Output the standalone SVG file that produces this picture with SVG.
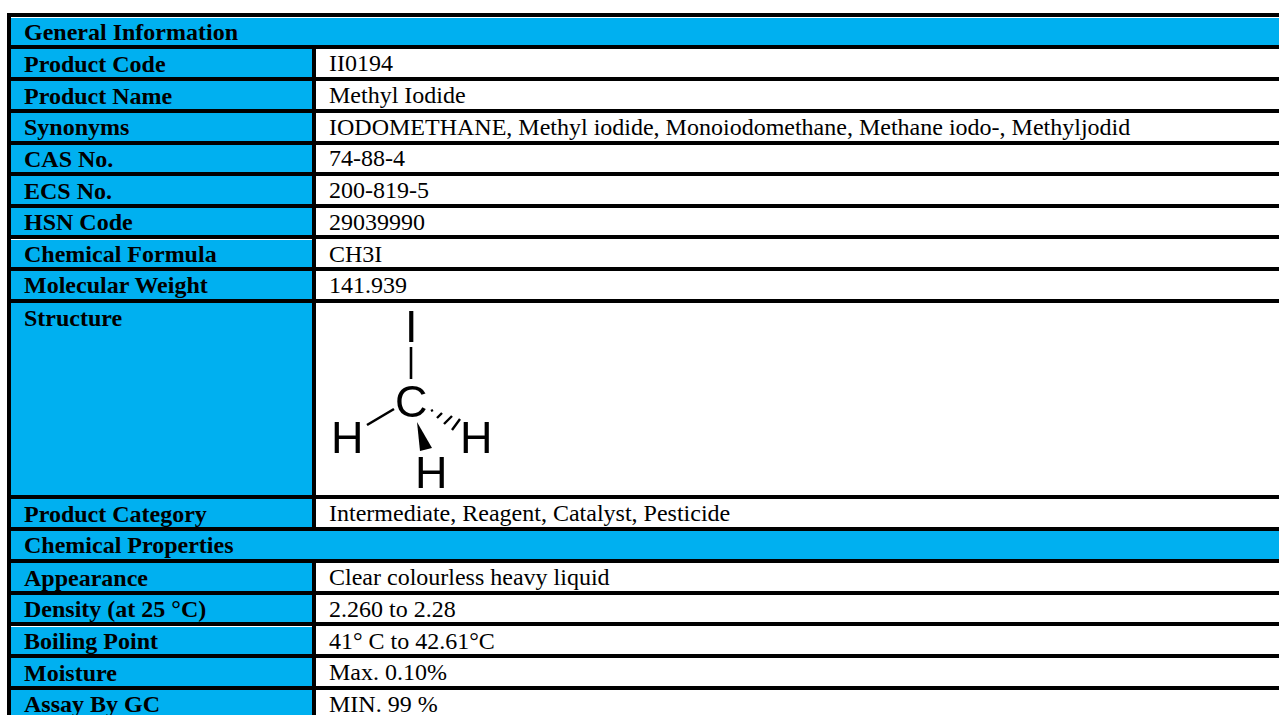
<svg xmlns="http://www.w3.org/2000/svg" width="1279" height="715" viewBox="0 0 1279 715">
<style>
.b{fill:#00b0f0}
.w{fill:#fff}
text{font-family:"Liberation Serif","Times New Roman",serif;fill:#000;font-size:24px}
.l{font-weight:700}
.a{font-family:"Liberation Sans",Arial,sans-serif;font-size:45px}
</style>
<defs><filter id="s" x="-5%" y="-5%" width="110%" height="110%"><feGaussianBlur stdDeviation="0.5"/></filter></defs>
<rect width="1279" height="715" fill="#fff"/>
<rect x="7" y="13" width="1272" height="702" fill="#000"/>
<rect x="11" y="17" width="1268" height="1" fill="#fff"/>
<g id="general-information"><rect class="b" x="11" y="18" width="1268" height="27"/><text class="l" x="24" y="40">General Information</text></g>
<g id="product-code"><rect class="b" x="11" y="49" width="301" height="28"/><rect class="w" x="316" y="49" width="963" height="28"/><text class="l" x="24" y="72">Product Code</text><text x="329" y="71">II0194</text></g>
<g id="product-name"><rect class="b" x="11" y="81" width="301" height="28"/><rect class="w" x="316" y="81" width="963" height="28"/><text class="l" x="24" y="104">Product Name</text><text x="329" y="103">Methyl Iodide</text></g>
<g id="synonyms"><rect class="b" x="11" y="113" width="301" height="28"/><rect class="w" x="316" y="113" width="963" height="28"/><text class="l" x="24" y="135">Synonyms</text><text x="329" y="135">IODOMETHANE, Methyl iodide, Monoiodomethane, Methane iodo-, Methyljodid</text></g>
<g id="cas-no"><rect class="b" x="11" y="145" width="301" height="27"/><rect class="w" x="316" y="145" width="963" height="27"/><text class="l" x="24" y="167">CAS No.</text><text x="329" y="166">74-88-4</text></g>
<g id="ecs-no"><rect class="b" x="11" y="176" width="301" height="28"/><rect class="w" x="316" y="176" width="963" height="28"/><text class="l" x="24" y="199">ECS No.</text><text x="329" y="198">200-819-5</text></g>
<g id="hsn-code"><rect class="b" x="11" y="208" width="301" height="27"/><rect class="w" x="316" y="208" width="963" height="27"/><text class="l" x="24" y="230">HSN Code</text><text x="329" y="230">29039990</text></g>
<g id="chemical-formula"><rect class="w" x="11" y="239" width="301" height="1"/><rect class="b" x="11" y="240" width="301" height="27"/><rect class="w" x="316" y="239" width="963" height="28"/><text class="l" x="24" y="262">Chemical Formula</text><text x="329" y="262">CH3I</text></g>
<g id="molecular-weight"><rect class="b" x="11" y="271" width="301" height="28"/><rect class="w" x="316" y="271" width="963" height="28"/><text class="l" x="24" y="293">Molecular Weight</text><text x="329" y="293">141.939</text></g>
<g id="structure"><rect class="b" x="11" y="303" width="301" height="192"/><rect class="w" x="316" y="303" width="963" height="192"/><text class="l" x="24" y="326">Structure</text>
<g filter="url(#s)">
<text class="a" x="405" y="342">I</text>
<path d="M411 347V379" stroke="#000" stroke-width="2.6" fill="none"/>
<text class="a" x="395" y="416.5">C</text>
<text class="a" x="331" y="453">H</text>
<text class="a" x="460" y="453">H</text>
<text class="a" x="415" y="488">H</text>
<path d="M394 409L367 425" stroke="#000" stroke-width="2.6" fill="none"/>
<path d="M417 422L420 451L432 448Z" fill="#000"/>
<path d="M431 411l2-1M437 418l5-5M444 424l8-8M452 430l8-11" stroke="#000" stroke-width="2.4" fill="none"/>
</g></g>
<g id="product-category"><rect class="b" x="11" y="499" width="301" height="28"/><rect class="w" x="316" y="499" width="963" height="28"/><text class="l" x="24" y="522">Product Category</text><text x="329" y="521">Intermediate, Reagent, Catalyst, Pesticide</text></g>
<g id="chemical-properties"><rect class="b" x="11" y="531" width="1268" height="28"/><text class="l" x="24" y="553">Chemical Properties</text></g>
<g id="appearance"><rect class="b" x="11" y="563" width="301" height="28"/><rect class="w" x="316" y="563" width="963" height="28"/><text class="l" x="24" y="586">Appearance</text><text x="329" y="585">Clear colourless heavy liquid</text></g>
<g id="density"><rect class="b" x="11" y="595" width="301" height="27"/><rect class="w" x="316" y="595" width="963" height="27"/><text class="l" x="24" y="617">Density (at 25 °C)</text><text x="329" y="617">2.260 to 2.28</text></g>
<g id="boiling-point"><rect class="w" x="11" y="626" width="301" height="1"/><rect class="b" x="11" y="627" width="301" height="27"/><rect class="w" x="316" y="626" width="963" height="28"/><text class="l" x="24" y="649">Boiling Point</text><text x="329" y="649">41° C to 42.61°C</text></g>
<g id="moisture"><rect class="b" x="11" y="658" width="301" height="28"/><rect class="w" x="316" y="658" width="963" height="28"/><text class="l" x="24" y="681">Moisture</text><text x="329" y="680">Max. 0.10%</text></g>
<g id="assay"><rect class="b" x="11" y="690" width="301" height="25"/><rect class="w" x="316" y="690" width="963" height="25"/><text class="l" x="24" y="712">Assay By GC</text><text x="329" y="712">MIN. 99 %</text></g>
</svg>
